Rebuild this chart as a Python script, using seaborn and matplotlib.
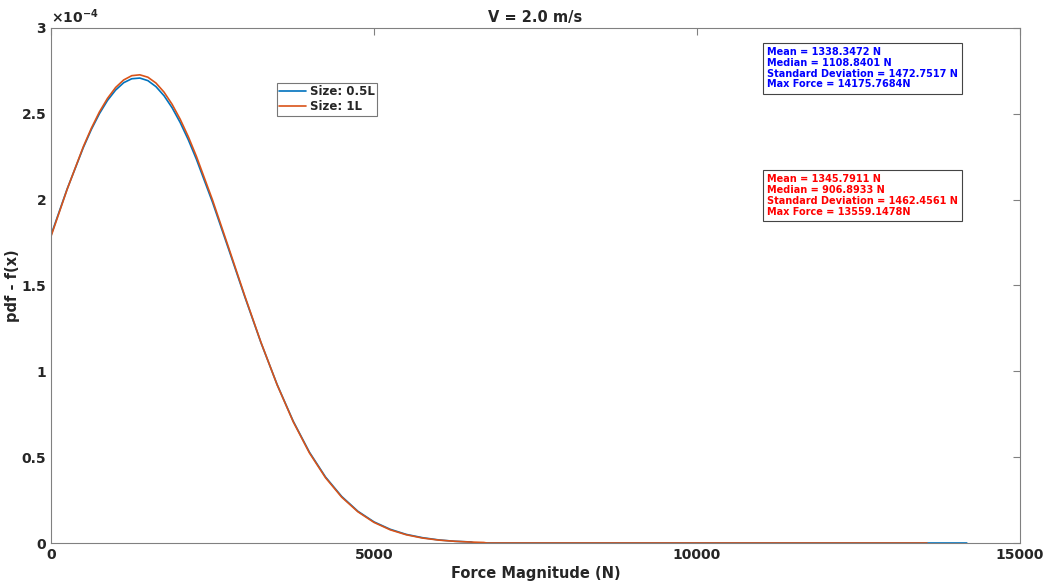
import numpy as np
import pandas as pd
import matplotlib
matplotlib.use('Agg')
import matplotlib.pyplot as plt
import seaborn as sns

# force grid (N) and pdf values (in units of 1e-4)
force = [0, 250, 500, 625, 750, 875, 1000, 1125, 1250, 1375, 1500, 1625,
         1750, 1875, 2000, 2125, 2250, 2500, 2750, 3000, 3250, 3500, 3750,
         4000, 4250, 4500, 4750, 5000, 5250, 5500, 5750, 6000, 6250, 6500]
pdf_half = [1.793, 2.062, 2.303, 2.409, 2.501, 2.578, 2.638, 2.681, 2.704,
            2.708, 2.693, 2.658, 2.605, 2.535, 2.449, 2.349, 2.236, 1.985,
            1.711, 1.434, 1.167, 0.923, 0.709, 0.529, 0.384, 0.271, 0.185,
            0.123, 0.080, 0.050, 0.031, 0.018, 0.010, 0.006]
pdf_full = [1.786, 2.060, 2.308, 2.416, 2.511, 2.590, 2.653, 2.697, 2.722,
            2.727, 2.713, 2.679, 2.626, 2.555, 2.468, 2.367, 2.253, 1.998,
            1.720, 1.439, 1.169, 0.922, 0.706, 0.525, 0.380, 0.267, 0.182,
            0.120, 0.077, 0.048, 0.029, 0.017, 0.010, 0.0055]
# tails out to the max force, pdf ~ 0
tail_half_x = [6550, 9800, 14175.7684]
tail_full_x = [6750, 9800, 13559.1478]

labels = ['Size: 0.5L', 'Size: 1L']
stats_half = ['Mean = 1338.3472 N', 'Median = 1108.8401 N',
              'Standard Deviation = 1472.7517 N', 'Max Force = 14175.7684N']
stats_full = ['Mean = 1345.7911 N', 'Median = 906.8933 N',
              'Standard Deviation = 1462.4561 N', 'Max Force = 13559.1478N']

blue = '#0072BD'
orange = '#D95319'

df = pd.concat([
    pd.DataFrame({'force': force + tail_half_x,
                  'pdf': pdf_half + [0.0] * len(tail_half_x),
                  'size': labels[0]}),
    pd.DataFrame({'force': force + [6700] + tail_full_x,
                  'pdf': pdf_full + [0.003] + [0.0] * len(tail_full_x),
                  'size': labels[1]}),
])

sns.set_style('white')
plt.rcParams['font.family'] = ['DejaVu Sans']
plt.rcParams['font.weight'] = 'bold'

fig = plt.figure(figsize=(10.45, 5.82), dpi=100)
ax = fig.add_axes([0.0488, 0.067, 0.9273, 0.885])

sns.lineplot(data=df, x='force', y='pdf', hue='size', palette=[blue, orange],
             linewidth=1.2, ax=ax, sort=False, estimator=None)

ax.set_xlim(0, 15000)
ax.set_ylim(0, 3)
ax.set_xticks([0, 5000, 10000, 15000])
ax.set_yticks([0, 0.5, 1, 1.5, 2, 2.5, 3])
ax.set_yticklabels(['0', '0.5', '1', '1.5', '2', '2.5', '3'])
ax.tick_params(direction='in', length=5, color='#808080', labelsize=10,
               labelcolor='#262626', top=True, right=True)
for lab in ax.get_xticklabels() + ax.get_yticklabels():
    lab.set_fontweight('bold')
for sp in ax.spines.values():
    sp.set_color('#808080')
    sp.set_linewidth(0.8)

ax.text(0.0, 1.003, r'$\times 10^{-4}$', transform=ax.transAxes,
        fontsize=10, color='#262626', ha='left', va='bottom')

ax.set_title('V = 2.0 m/s', fontsize=10.5, fontweight='bold', pad=4)
ax.set_xlabel('Force Magnitude (N)', fontsize=10.5, fontweight='bold', color='#262626', labelpad=3)
ax.set_ylabel('pdf - f(x)', fontsize=10.5, fontweight='bold', color='#262626', labelpad=1)

leg = ax.legend(loc='upper left', bbox_to_anchor=(0.233, 0.893), fontsize=8.5,
                frameon=True, fancybox=False, edgecolor='#555555',
                handlelength=2.3, borderpad=0.2, labelspacing=0.15,
                handletextpad=0.3, borderaxespad=0)
leg.get_frame().set_linewidth(0.8)
for t in leg.get_texts():
    t.set_fontweight('bold')

box = dict(boxstyle='square,pad=0.45', facecolor='white', edgecolor='#444444', linewidth=0.8)
ax.text(0.739, 0.963, '\n'.join(stats_half), transform=ax.transAxes, fontsize=7,
        fontweight='bold', color='blue', ha='left', va='top', linespacing=1.1, bbox=box)
ax.text(0.739, 0.716, '\n'.join(stats_full), transform=ax.transAxes, fontsize=7,
        fontweight='bold', color='red', ha='left', va='top', linespacing=1.1, bbox=box)

fig.savefig('out.png', dpi=100)
